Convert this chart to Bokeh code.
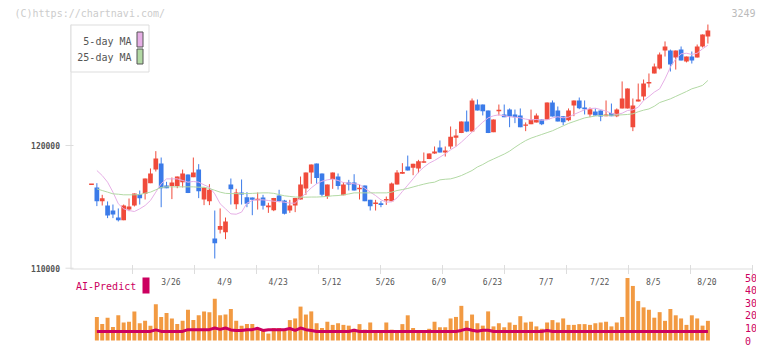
from bokeh.plotting import figure
from bokeh.models import Range1d
from bokeh.core.properties import value
from bokeh.embed import file_html
from bokeh.resources import INLINE

# ---------------- data ----------------
opens = [116790, 116580, 115460, 115110, 114700, 114130, 113910, 114780, 115110, 116030,
         116060, 116930, 118040, 118530, 116740, 116690, 116690, 117010, 117640, 117420,
         118040, 115600, 115460, 112420, 113130, 112940, 116820, 115220, 116170, 115790,
         115760, 115540, 115760, 114970, 114730, 115920, 115520, 114700, 115110, 115600,
         116500, 117800, 118530, 117720, 115870, 117260, 117470, 115950, 116980, 116980,
         116440, 116740, 115570, 115240, 115300, 115520, 115460, 116820, 117690, 118290,
         118180, 118130, 118590, 118890, 119350, 119840, 119430, 119920, 120630, 121010,
         121960, 121140, 123340, 123340, 122850, 121090, 122800, 122530, 122930, 122530,
         122450, 121600, 121740, 121880, 122120, 122120, 123510, 122850, 122390, 122060,
         123260, 123670, 123100, 122530, 122770, 122850, 122390, 122640, 122390, 123020,
         123020, 121490, 123590, 123990, 125050, 125870, 126280, 127740, 127740, 127170,
         127820, 126850, 127250, 127170, 128070, 128880]
highs = [116790, 116930, 115980, 115440, 115190, 114870, 115190, 115680, 116090, 116330,
         117310, 118130, 119540, 119020, 117040, 117390, 117470, 118040, 117640, 119020,
         118480, 116580, 116850, 114700, 114870, 114130, 117310, 116470, 117230, 116200,
         115760, 116170, 115980, 115330, 115730, 116390, 115570, 115570, 115730, 117470,
         117800, 118450, 118530, 117720, 116820, 117800, 117720, 117010, 117200, 117660,
         116820, 116740, 115570, 115570, 115460, 115840, 116980, 117990, 118560, 119180,
         118510, 118830, 119430, 119350, 119920, 120410, 119920, 121550, 121330, 121960,
         122850, 123830, 123750, 123340, 122850, 122120, 123340, 123340, 123020, 122930,
         123020, 121880, 122930, 122610, 122120, 123510, 123670, 123180, 122390, 123020,
         123670, 123910, 123670, 123100, 123020, 122850, 123670, 123420, 123020, 125220,
         124650, 123830, 125050, 125380, 125870, 126680, 127580, 128480, 127820, 127740,
         128070, 127250, 127660, 128230, 129050, 129860]
lows = [116790, 115060, 115110, 114080, 114080, 113810, 113910, 114650, 115030, 115190,
        115600, 116930, 117880, 114970, 116520, 115630, 116520, 116580, 116120, 117420,
        115710, 115140, 115140, 110790, 112830, 112370, 115190, 114810, 115190, 114970,
        114320, 114780, 114780, 114510, 114650, 115380, 114380, 114510, 114570, 115600,
        115980, 116880, 116880, 115840, 115650, 116470, 116410, 115950, 116330, 116330,
        115600, 115460, 114700, 114700, 114970, 115160, 115460, 116820, 117690, 117960,
        117580, 117750, 118590, 118890, 119320, 119430, 119100, 119730, 119920, 121010,
        121090, 121140, 122850, 122450, 121010, 121090, 122450, 122310, 121490, 121820,
        121490, 121170, 121740, 121880, 121660, 122120, 122360, 121960, 121660, 121980,
        122390, 122960, 122530, 122310, 122440, 121980, 122390, 122390, 122310, 123020,
        123020, 121170, 123590, 123670, 124730, 125870, 126200, 127250, 126030, 126190,
        126930, 126770, 126680, 127170, 127990, 128310]
closes = [116790, 115460, 115710, 114290, 114380, 113910, 115110, 115030, 116090, 115710,
          117310, 117720, 118940, 116520, 116520, 116980, 117470, 117720, 116120, 117800,
          116280, 116580, 116390, 112040, 113430, 113810, 116440, 116170, 116010, 115250,
          115570, 115570, 115080, 115110, 115730, 115460, 114430, 115110, 115730, 116820,
          117800, 118450, 117360, 115980, 116820, 117800, 116690, 116820, 116820, 116330,
          116470, 115460, 115050, 115300, 115160, 115570, 116900, 117800, 117850, 117960,
          118510, 118720, 118720, 119350, 119510, 119430, 119590, 120710, 120820, 121960,
          121140, 123670, 122850, 122800, 121010, 122120, 122850, 122310, 122360, 122310,
          121490, 121660, 122120, 122450, 121740, 123510, 122360, 121960, 121900, 122850,
          123670, 123040, 122960, 122960, 122440, 122360, 122530, 122390, 122930, 123830,
          124650, 123260, 123750, 125050, 125110, 126440, 127420, 128070, 126600, 127740,
          126930, 127250, 126930, 128070, 129050, 129370]

# 5-day and 25-day moving averages, from the second candle on
ma5 = [117960, 117550, 117010, 116200, 115250, 114840, 114700, 114620, 114840, 115110,
       115520, 116200, 116880, 117280, 117280, 117280, 117150, 117010, 117070, 117010,
       116790, 116600, 116060, 115250, 114840, 114430, 114400, 114570, 115300, 115520,
       115570, 115570, 115520, 115460, 115430, 115380, 115300, 115300, 115730, 116110,
       116550, 116880, 117090, 117200, 117260, 117150, 116980, 116930, 116880, 116820,
       116520, 116200, 115920, 115570, 115380, 115410, 115730, 116250, 116770, 117280,
       117830, 118230, 118560, 118780, 119050, 119320, 119650, 119920, 120270, 120680,
       121090, 121490, 121900, 122250, 122420, 122500, 122420, 122340, 122310, 122250,
       122150, 122090, 122120, 122060, 122090, 122250, 122340, 122260, 122310, 122530,
       122720, 122910, 123010, 123040, 122930, 122800, 122630, 122530, 122630, 122850,
       122910, 123120, 123670, 123990, 124350, 124620, 125430, 126380, 127060, 127470,
       127520, 127420, 127520, 127880, 128180]
ma25 = [116470, 116330, 116200, 116060, 116030, 115980, 115980, 115980, 116000, 116110,
        116200, 116390, 116580, 116630, 116630, 116630, 116630, 116630, 116630, 116600,
        116600, 116500, 116350, 116200, 116100, 116080, 116080, 116080, 116080, 116100,
        116120, 116140, 116140, 116100, 116000, 115900, 115850, 115800, 115790, 115790,
        115800, 115800, 115820, 115850, 115900, 115920, 115980, 116050, 116140, 116140,
        116140, 116140, 116140, 116140, 116140, 116200, 116330, 116410, 116500, 116620,
        116740, 116850, 116950, 117010, 117200, 117250, 117280, 117400, 117550, 117750,
        117960, 118250, 118450, 118700, 118900, 119100, 119300, 119540, 119850, 120140,
        120400, 120600, 120750, 120900, 121050, 121200, 121400, 121600, 121800, 121950,
        122100, 122250, 122330, 122400, 122440, 122460, 122470, 122480, 122500, 122530,
        122580, 122750, 122880, 122980, 123200, 123500, 123650, 123800, 124000, 124200,
        124400, 124620, 124750, 124900, 125300]

# volume-like bars (0-50 scale), from the second candle on
volume = [18.7, 13.0, 18.1, 10.7, 20.0, 14.3, 14.9, 23.1, 13.7, 15.6,
          11.8, 28.8, 18.7, 21.9, 17.5, 13.0, 15.6, 24.4, 16.2, 20.0,
          23.1, 22.5, 33.2, 20.0, 20.6, 25.0, 15.6, 11.8, 13.0, 13.0,
          9.9, 9.1, 5.5, 9.9, 9.9, 8.6, 16.2, 17.5, 26.9, 20.6,
          23.1, 13.7, 9.9, 14.9, 12.4, 13.7, 12.4, 11.8, 9.3, 13.0,
          8.6, 14.3, 7.2, 7.2, 14.3, 8.6, 7.2, 13.0, 20.0, 9.9,
          7.4, 7.4, 9.3, 14.9, 10.5, 10.5, 17.5, 18.7, 27.5, 15.6,
          20.6, 13.7, 11.8, 23.1, 11.2, 13.7, 10.5, 14.3, 12.4, 19.3,
          14.3, 14.9, 11.2, 9.3, 14.3, 16.2, 14.3, 17.5, 12.4, 12.4,
          13.0, 13.0, 12.4, 13.7, 14.3, 14.9, 11.2, 14.3, 18.7, 49.6,
          43.3, 31.3, 26.3, 24.4, 18.1, 22.5, 15.6, 25.0, 20.0, 17.5,
          12.4, 20.0, 17.5, 11.8, 15.6]
ai_predict = [7.2, 7.2, 7.2, 7.2, 7.2, 7.2, 7.2, 7.2, 7.2, 7.2,
              7.2, 8.4, 7.2, 7.2, 7.2, 7.2, 7.2, 8.6, 8.6, 8.6,
              8.6, 8.6, 9.9, 8.8, 9.9, 8.4, 8.0, 8.0, 8.6, 8.6,
              9.7, 8.0, 8.6, 8.6, 8.6, 8.6, 9.5, 8.0, 9.9, 8.6,
              8.0, 7.2, 7.2, 7.2, 7.2, 7.2, 7.2, 7.2, 8.2, 7.2,
              7.2, 7.2, 7.2, 7.2, 7.2, 7.2, 7.2, 7.2, 7.2, 7.2,
              7.2, 7.2, 7.2, 7.2, 7.2, 7.2, 7.2, 7.2, 8.0, 9.1,
              8.2, 7.4, 8.2, 8.2, 7.2, 7.2, 7.2, 7.2, 7.2, 7.2,
              7.2, 7.2, 7.2, 7.2, 8.0, 7.2, 7.2, 7.2, 7.2, 7.2,
              7.2, 7.2, 7.2, 7.2, 7.2, 7.2, 7.2, 7.2, 7.2, 7.2,
              7.2, 7.2, 7.2, 7.2, 7.2, 7.2, 7.2, 7.2, 7.2, 7.2,
              7.2, 7.2, 7.2, 7.2, 7.2]

date_labels = ["3/26", "4/9", "4/23", "5/12", "5/26", "6/9", "6/23", "7/7", "7/22", "8/5", "8/20"]
date_index = [15, 25, 35, 45, 55, 65, 75, 85, 95, 105, 115]
price_ticks = [110000, 120000]
vol_ticks = [0, 10, 20, 30, 40, 50]

n = len(opens)
idx = list(range(n))
idx1 = idx[1:]

# ---------------- layout helpers (canvas pixel -> data) ----------------
W, H = 756, 345
X0PX, DX = 91.0, 5.36                    # first candle / spacing in pixels
def xd(px):
    return (px - X0PX) / DX
def yp(py):                               # price scale
    return 120000 + (145 - py) * 81.5
def yv(py):                               # volume scale
    return (340 - py) / 1.26

RED, BLUE = "#f04b3b", "#3b7be9"
PINK, GREEN = "#e6afe6", "#b2d9a4"
ORANGE, CRIMSON = "#f29a42", "#cc0060"
FONT = "DejaVu Sans Mono"
GRID = "#dddddd"

p = figure(width=W, height=H, output_backend="svg", toolbar_location=None,
           x_range=Range1d(xd(0), xd(W)), y_range=Range1d(yp(H), yp(0)),
           x_axis_location=None, y_axis_location=None,
           min_border_left=0, min_border_right=0, min_border_top=0, min_border_bottom=0)
p.grid.visible = False
p.outline_line_color = None
p.background_fill_color = "white"
p.border_fill_color = "white"
p.extra_y_ranges = {"vol": Range1d(yv(H), yv(0))}

# ---- price axis (left) ----
p.segment(x0=[xd(70.5)], y0=[yp(24)], x1=[xd(70.5)], y1=[yp(268.5)], line_color=GRID, line_width=1)
p.segment(x0=[xd(65)] * 2, y0=price_ticks, x1=[xd(73)] * 2, y1=price_ticks, line_color=GRID, line_width=1)
p.text(x=[xd(59.5)] * 2, y=price_ticks, text=[str(t) for t in price_ticks],
       text_font=value(FONT), text_font_size="8px", text_font_style="bold",
       text_color="#555555", text_align="right", text_baseline="middle")

# ---- time axis line with separators ----
p.segment(x0=[xd(70)], y0=[yp(268.5)], x1=[xd(752)], y1=[yp(268.5)], line_color=GRID, line_width=1)
tx = [xd(70 + 62 * k) for k in range(1, 12)]
p.segment(x0=tx, y0=[yp(264.5)] * len(tx), x1=tx, y1=[yp(273.5)] * len(tx),
          line_color=GRID, line_width=1)

# ---- volume panel ----
p.vbar(x=idx1, top=volume, bottom=0, width=0.74, fill_color=ORANGE, line_color=None,
       y_range_name="vol")
p.line(idx1, ai_predict, line_color=CRIMSON, line_width=3, y_range_name="vol")
p.text(x=[xd(744.5)] * len(vol_ticks), y=vol_ticks, text=[str(v) for v in vol_ticks],
       text_font=value(FONT), text_font_size="10px", text_color=CRIMSON,
       text_align="left", text_baseline="middle", y_range_name="vol")

# ---- candles ----
colors = [RED if c >= o else BLUE for o, c in zip(opens, closes)]
btop = [max(o, c) for o, c in zip(opens, closes)]
bbot = [min(o, c) for o, c in zip(opens, closes)]
btop = [t if t - b >= 120 else b + 120 for t, b in zip(btop, bbot)]
p.segment(x0=idx, y0=lows, x1=idx, y1=highs, line_color=colors, line_width=1)
p.vbar(x=idx, top=btop, bottom=bbot, width=0.88, fill_color=colors, line_color=None)

# ---- moving averages ----
p.line(idx1, ma5, line_color=PINK, line_width=1)
p.line(idx1, ma25, line_color=GREEN, line_width=1)

# ---- legend ----
p.quad(left=[xd(70.5)], right=[xd(148.5)], top=[yp(24.5)], bottom=[yp(71.5)],
       fill_color="white", line_color=GRID)
p.text(x=[xd(131), xd(131)], y=[yp(41), yp(57)], text=["5-day MA", "25-day MA"],
       text_font=value(FONT), text_font_size="10px", text_color="#555555",
       text_align="right", text_baseline="middle")
p.quad(left=[xd(136.5)] * 2, right=[xd(142.5)] * 2, top=[yp(31.5), yp(48.5)],
       bottom=[yp(46.5), yp(63.5)], fill_color=[PINK, GREEN], line_color="#555555")

# ---- AI-Predict label ----
p.text(x=[xd(75.5)], y=[yp(286)], text=["AI-Predict"], text_font=value(FONT),
       text_font_size="10px", text_color=CRIMSON, text_align="left", text_baseline="middle")
p.quad(left=[xd(142)], right=[xd(149)], top=[yp(277)], bottom=[yp(293)],
       fill_color=CRIMSON, line_color=None)

# ---- date labels ----
p.text(x=date_index, y=[yp(282)] * len(date_index), text=date_labels,
       text_font=value(FONT), text_font_size="8px", text_color="#555555",
       text_align="center", text_baseline="middle", x_offset=-1)

# ---- header texts ----
p.text(x=[xd(14)], y=[yp(12.5)], text=["(C)https://chartnavi.com/"],
       text_font=value(FONT), text_font_size="10px", text_color="#cccccc",
       text_align="left", text_baseline="middle")
p.text(x=[xd(755)], y=[yp(12)], text=["3249"],
       text_font=value(FONT), text_font_size="10px", text_color="#bbbbbb",
       text_align="right", text_baseline="middle")

open("out.html", "w").write(file_html(p, INLINE))
